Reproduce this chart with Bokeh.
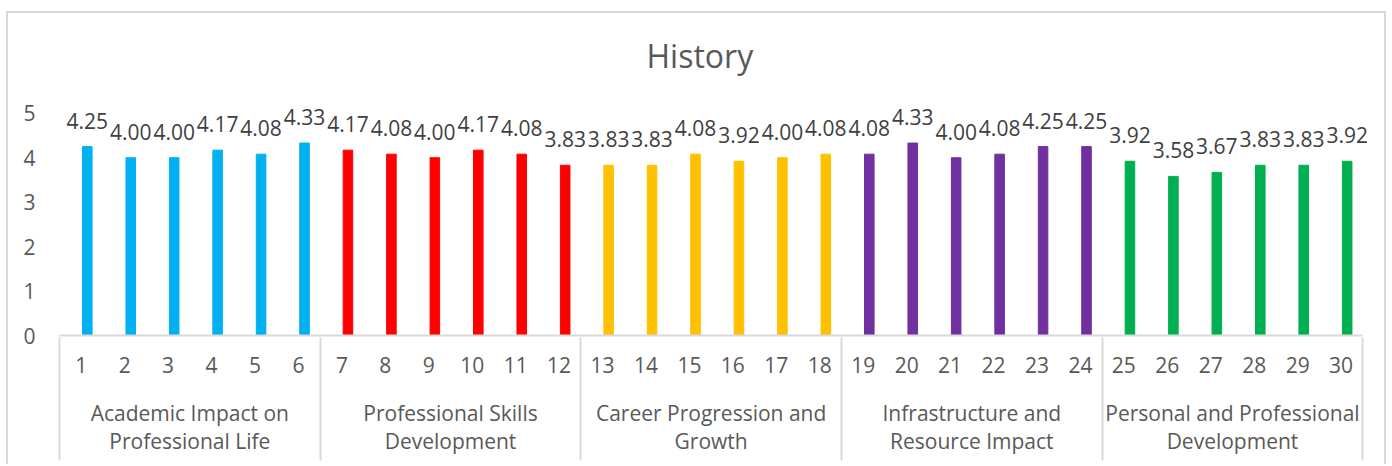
from bokeh.plotting import figure
from bokeh.models import FixedTicker, LinearAxis, Range1d, ColumnDataSource
from bokeh.embed import file_html
from bokeh.resources import INLINE
from bokeh.core.properties import value

# ---- data ----
items = [str(i) for i in range(1, 31)]
scores = [4.25, 4.00, 4.00, 4.17, 4.08, 4.33,
          4.17, 4.08, 4.00, 4.17, 4.08, 3.83,
          3.83, 3.83, 4.08, 3.92, 4.00, 4.08,
          4.08, 4.33, 4.00, 4.08, 4.25, 4.25,
          3.92, 3.58, 3.67, 3.83, 3.83, 3.92]
groups = ["Academic Impact on\nProfessional Life",
          "Professional Skills\nDevelopment",
          "Career Progression and\nGrowth",
          "Infrastructure and\nResource Impact",
          "Personal and Professional\nDevelopment"]
group_colors = ["#00B0F0", "#FF0000", "#FFC000", "#7030A0", "#00B050"]
per_group = 6
y_ticks = [0, 1, 2, 3, 4, 5]

FONT = "Open Sans"
W, H = 1380, 453
n = len(items)
GRAY = "#d9d9d9"

pos = list(range(1, n + 1))
bar_x = [x + 0.14 for x in pos]
colors = [group_colors[(x - 1) // per_group] for x in pos]
labels = ["%.2f" % v for v in scores]
src = ColumnDataSource(dict(x=bar_x, top=scores, color=colors, label=labels))

p = figure(width=W, height=H, output_backend="svg", toolbar_location=None,
           x_range=Range1d(0.5, n + 0.7), y_range=Range1d(0, 5.76),
           x_axis_location=None, y_axis_location=None,
           min_border_left=51, min_border_right=17, min_border_top=66, min_border_bottom=131,
           styles={"border-top": "2px solid " + GRAY, "border-left": "2px solid " + GRAY,
                   "border-right": "2px solid " + GRAY, "margin-top": "11px",
                   "margin-left": "6px"})
p.grid.visible = False
p.outline_line_color = None
p.background_fill_color = "white"
p.border_fill_color = "white"

p.title.text = "History"
p.title.align = "left"
p.title.offset = 587
p.title.text_font = FONT
p.title.text_font_size = "32px"
p.title.text_font_style = "normal"
p.title.text_color = "#595959"
p.title.standoff = 6

yax = LinearAxis(ticker=FixedTicker(ticks=y_ticks), axis_line_color=None,
                 major_tick_line_color=None, minor_tick_line_color=None,
                 major_tick_out=0, major_tick_in=0, major_label_standoff=24,
                 major_label_text_font=FONT, major_label_text_font_size="21px",
                 major_label_text_color="#595959")
p.add_layout(yax, "left")

bounds = [g * per_group + 0.5 for g in range(len(groups) + 1)]
centers = [g * per_group + (per_group + 1) / 2 for g in range(len(groups))]

xa = LinearAxis(ticker=FixedTicker(ticks=pos, minor_ticks=[]),
                bounds=(0.5, n + 0.5),
                major_label_overrides={x: t for x, t in zip(pos, items)},
                axis_line_color=GRAY, axis_line_width=2,
                major_tick_line_color=None, minor_tick_line_color=None,
                major_tick_out=0, major_tick_in=0, minor_tick_out=0, minor_tick_in=0,
                major_label_standoff=21,
                major_label_text_font=FONT, major_label_text_font_size="21px",
                major_label_text_color="#595959")
p.add_layout(xa, "below")

xb = LinearAxis(ticker=FixedTicker(ticks=centers, minor_ticks=[]),
                major_label_overrides={c: g for c, g in zip(centers, groups)},
                axis_line_color=None, major_tick_line_color=None, minor_tick_line_color=None,
                major_tick_out=0, major_tick_in=0, minor_tick_out=0, minor_tick_in=0,
                major_label_standoff=23, major_label_text_line_height=1.02,
                major_label_text_font=FONT, major_label_text_font_size="21px",
                major_label_text_color="#595959")
p.add_layout(xb, "below")

# group separators: minor ticks of an unlabeled axis, drawn upward to the frame
xc = LinearAxis(ticker=FixedTicker(ticks=[], minor_ticks=bounds),
                axis_line_color=None, major_tick_line_color=None,
                minor_tick_line_color=GRAY, minor_tick_line_width=2,
                major_tick_out=0, major_tick_in=0, minor_tick_out=2, minor_tick_in=121,
                major_label_standoff=0, major_label_text_font_size="0px")
p.add_layout(xc, "below")

p.vbar(x="x", top="top", bottom=0, width=0.22, color="color", source=src)
p.text(x="x", y="top", text="label", source=src, text_align="center",
       text_baseline="alphabetic", y_offset=-26, text_font=value(FONT),
       text_font_size="21px", text_color="#404040")

open("out.html", "w").write(file_html(p, INLINE))
